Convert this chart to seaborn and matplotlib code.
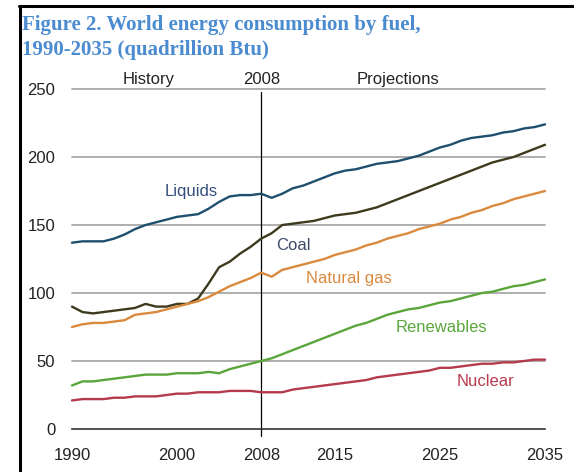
import numpy as np
import pandas as pd
import matplotlib.pyplot as plt
import seaborn as sns
from matplotlib.lines import Line2D

# data (quadrillion Btu), one value per year
years = list(range(1990, 2036))
liquids = [137, 138, 138, 138, 140, 143, 147, 150, 152, 154,
           156, 157, 158, 162, 167, 171, 172, 172, 173, 170,
           173, 177, 179, 182, 185, 188, 190, 191, 193, 195,
           196, 197, 199, 201, 204, 207, 209, 212, 214, 215,
           216, 218, 219, 221, 222, 224]
coal = [90, 86, 85, 86, 87, 88, 89, 92, 90, 90,
        92, 92, 96, 107, 119, 123, 129, 134, 140, 144,
        150, 151, 152, 153, 155, 157, 158, 159, 161, 163,
        166, 169, 172, 175, 178, 181, 184, 187, 190, 193,
        196, 198, 200, 203, 206, 209]
natural_gas = [75, 77, 78, 78, 79, 80, 84, 85, 86, 88,
               90, 92, 94, 97, 101, 105, 108, 111, 115, 112,
               117, 119, 121, 123, 125, 128, 130, 132, 135, 137,
               140, 142, 144, 147, 149, 151, 154, 156, 159, 161,
               164, 166, 169, 171, 173, 175]
renewables = [32, 35, 35, 36, 37, 38, 39, 40, 40, 40,
              41, 41, 41, 42, 41, 44, 46, 48, 50, 52,
              55, 58, 61, 64, 67, 70, 73, 76, 78, 81,
              84, 86, 88, 89, 91, 93, 94, 96, 98, 100,
              101, 103, 105, 106, 108, 110]
nuclear = [21, 22, 22, 22, 23, 23, 24, 24, 24, 25,
           26, 26, 27, 27, 27, 28, 28, 28, 27, 27,
           27, 29, 30, 31, 32, 33, 34, 35, 36, 38,
           39, 40, 41, 42, 43, 45, 45, 46, 47, 48,
           48, 49, 49, 50, 51, 51]

fuels = ["Liquids", "Coal", "Natural gas", "Renewables", "Nuclear"]
line_colors = ["#1f4f6e", "#3d3a1e", "#d98a3d", "#5aa63a", "#b53a4c"]
text_colors = ["#34507a", "#3d4a66", "#d98a3d", "#5aa63a", "#b53a4c"]

df = pd.DataFrame({"Year": years, "Liquids": liquids, "Coal": coal,
                   "Natural gas": natural_gas, "Renewables": renewables,
                   "Nuclear": nuclear})
long_df = df.melt(id_vars="Year", var_name="Fuel", value_name="Btu")

sns.set_style("white")
plt.rcParams['font.family'] = ['Liberation Sans', 'DejaVu Sans']

fig = plt.figure(figsize=(5.74, 4.72), dpi=100)
ax = fig.add_axes([0.1254, 0.0911, 0.8241, 0.7203])

# grid lines first so the data sits on top
for v in [50, 100, 150, 200, 250]:
    ax.axhline(v, color="#a8a8a8", lw=1.3, zorder=1)

ax.axvline(2008, ymin=-0.02, ymax=0.99, color="black", lw=0.9, zorder=2, clip_on=False)

sns.lineplot(data=long_df, x="Year", y="Btu", hue="Fuel", hue_order=fuels,
             palette=line_colors, lw=1.7, legend=False, ax=ax, zorder=3)
for l in ax.lines:
    l.set_clip_on(False)

ax.set_xlim(1990, 2035)
ax.set_ylim(0, 250)
ax.set_xticks([1990, 2000, 2008, 2015, 2025, 2035])
ax.set_yticks([0, 50, 100, 150, 200, 250])
ax.set_xlabel("")
ax.set_ylabel("")
sns.despine(ax=ax, left=True)
ax.spines["bottom"].set_color("#333333")
ax.spines["bottom"].set_linewidth(1.2)
ax.tick_params(axis="x", direction="out", length=6.5, width=1.2, color="#333333",
               pad=7, labelsize=12, labelcolor="#222222")
ax.tick_params(axis="y", length=0, pad=12, labelsize=12, labelcolor="#222222")
ax.grid(False)

# line labels
label_pos = [(2001.3, 174.3), (2011.1, 135.3), (2016.3, 111), (2025.1, 74.3), (2029.3, 34.6)]
for name, (x, y), c in zip(fuels, label_pos, text_colors):
    ax.text(x, y, name, color=c, fontsize=12, ha="center", va="center")

# header above the plot
for x, s in [(1997.3, "History"), (2008, "2008"), (2021, "Projections")]:
    ax.text(x, 257, s, color="#222222", fontsize=12, ha="center", va="center", clip_on=False)

fig.text(22 / 574, 1 - 15 / 472,
         "Figure 2. World energy consumption by fuel,\n1990-2035 (quadrillion Btu)",
         family="Liberation Serif", weight="bold", fontsize=15, color="#4b8bd0",
         ha="left", va="top", linespacing=1.3)

# black frame on top and left
fig.add_artist(Line2D([19 / 574, 573 / 574], [1 - 6 / 472, 1 - 6 / 472],
                      transform=fig.transFigure, color="black", lw=2.2))
fig.add_artist(Line2D([20 / 574, 20 / 574], [0, 1 - 6 / 472],
                      transform=fig.transFigure, color="black", lw=2.2))

fig.savefig("out.png", dpi=100)
